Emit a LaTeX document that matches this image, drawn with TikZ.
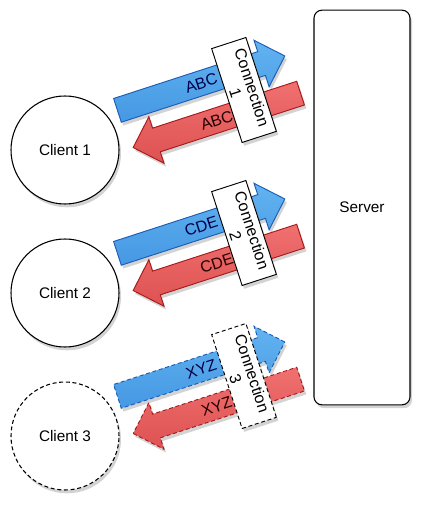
\documentclass[tikz,border=0pt]{standalone}
\usepackage{fontspec}
\setmainfont{Liberation Sans}
\usetikzlibrary{shapes.arrows,shadows,positioning}
\definecolor{upfill}{HTML}{62B3F0}
\definecolor{upfilldark}{HTML}{4598E3}
\definecolor{updraw}{HTML}{1C5CB5}
\definecolor{downfill}{HTML}{F07070}
\definecolor{downfilldark}{HTML}{DE5252}
\definecolor{downdraw}{HTML}{A81818}

\begin{document}
\begin{tikzpicture}[x=0.75pt,y=0.75pt,
    softshadow/.style={drop shadow={opacity=0.35,shadow xshift=1.5pt,shadow yshift=-2.5pt}},
    client/.style={circle,draw,line width=0.8pt,fill=white,minimum size=81pt,
      font=\fontsize{11.5}{13}\selectfont,softshadow},
    server/.style={rectangle,draw,line width=0.8pt,fill=white,rounded corners=6pt,
      minimum width=72pt,minimum height=296pt,font=\fontsize{11.5}{13}\selectfont,softshadow},
    flow/.style={single arrow,single arrow head extend=9pt,minimum height=132pt,
      text height=8.5pt,text depth=0pt,inner ysep=4.75pt,line width=0.7pt,
      rotate=18,anchor=tail,softshadow},
    upload/.style={flow,draw=updraw,top color=upfill,bottom color=upfilldark},
    download/.style={flow,shape border rotate=180,draw=downdraw,top color=downfill,
      bottom color=downfilldark},
    flowlabel/.style={midway,sloped,inner sep=0pt,font=\fontsize{12}{14}\selectfont},
    conn/.style={rectangle,draw,line width=0.7pt,fill=white,rotate=-72,align=center,
      minimum width=74pt,minimum height=27pt,inner sep=1pt,
      font=\fontsize{12}{13}\selectfont,softshadow},
    maybe/.style={densely dashed}]
  \useasboundingbox (0,0) rectangle (424,515);

  \node[server] (srv) at (362,307.5) {Server};

  % connection 1
  \node[client] (c1) at (65,365) {Client 1};
  \node[upload] (up1) at (117,404.5) {};
  \node[download] (down1) at (301,422) {};
  \path (up1.tail) -- (up1.tip) node[flowlabel,text=blue!30!black] {ABC};
  \path (down1.tail) -- (down1.tip) node[flowlabel,text=black!85!red] {ABC};
  \node[conn] (conn1) at (244,425) {Connection\\1};

  % connection 2
  \node[client] (c2) at (65,222) {Client 2};
  \node[upload] (up2) at (117,261.5) {};
  \node[download] (down2) at (301,279) {};
  \path (up2.tail) -- (up2.tip) node[flowlabel,text=blue!30!black] {CDE};
  \path (down2.tail) -- (down2.tip) node[flowlabel,text=black!85!red] {CDE};
  \node[conn] (conn2) at (244,282) {Connection\\2};

  % connection 3, dashed
  \node[client,maybe] (c3) at (65,79) {Client 3};
  \node[upload,maybe] (up3) at (117,118.5) {};
  \node[download,maybe] (down3) at (301,136) {};
  \path (up3.tail) -- (up3.tip) node[flowlabel,text=blue!30!black] {XYZ};
  \path (down3.tail) -- (down3.tip) node[flowlabel,text=black!85!red] {XYZ};
  \node[conn,maybe] (conn3) at (244,139) {Connection\\3};
\end{tikzpicture}
\end{document}
